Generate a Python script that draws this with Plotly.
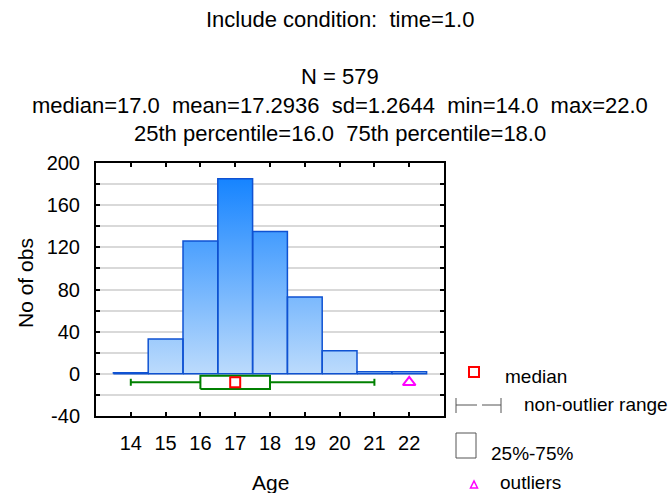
import plotly.graph_objects as go

# Age histogram (time = 1.0)
ages = [14, 15, 16, 17, 18, 19, 20, 21, 22]
counts = [1, 33, 126, 185, 135, 73, 22, 2, 2]

# Box-plot summary drawn under the histogram
median_age = 17.0
q1_age = 16.0
q3_age = 18.0
range_low = 14.0
range_high = 21.0
outlier_ages = [22.0]

y_tick_vals = list(range(-40, 201, 20))
y_tick_text = [str(v) if v % 40 == 0 else "" for v in y_tick_vals]

title_lines = [
    "Include condition:  time=1.0",
    "N = 579",
    "median=17.0  mean=17.2936  sd=1.2644  min=14.0  max=22.0",
    "25th percentile=16.0  75th percentile=18.0",
]

FONT = "Liberation Sans, Arial, sans-serif"
W, H = 669, 493
L, R, T, B = 96, 444, 163, 416
BOX_ROW = -8.0      # vertical position of the box-plot row
BOX_HALF = 6.3      # half height of the 25%-75% box
BAR_W = 1.0

def px(x):
    return (x - L) / (R - L)

def py(y):
    return (B - y) / (B - T)

fig = go.Figure()

# histogram bars as closed outlines with a vertical gradient fill
bx, by = [], []
for a, c in zip(ages, counts):
    x0, x1 = a - BAR_W / 2, a + BAR_W / 2
    bx += [x0, x0, x1, x1, x0, None]
    by += [0, c, c, 0, 0, None]
fig.add_trace(go.Scatter(
    x=bx, y=by, mode="lines", fill="toself",
    line=dict(color="#0f52d2", width=1.5),
    fillgradient=dict(type="vertical",
                      colorscale=[[0, "#bcdbfc"], [1, "#1684ff"]],
                      start=0, stop=max(counts)),
    hoverinfo="skip", showlegend=False,
))

# non-outlier range whiskers
green = "#008000"
fig.add_trace(go.Scatter(
    x=[range_low, q1_age, None, q3_age, range_high],
    y=[BOX_ROW, BOX_ROW, None, BOX_ROW, BOX_ROW],
    mode="lines", line=dict(color=green, width=2),
    hoverinfo="skip", showlegend=False,
))
fig.add_trace(go.Scatter(
    x=[range_low, range_high], y=[BOX_ROW, BOX_ROW], mode="markers",
    marker=dict(symbol="line-ns-open", size=5, color=green,
                line=dict(color=green, width=2)),
    hoverinfo="skip", showlegend=False,
))
# 25%-75% box
fig.add_trace(go.Scatter(
    x=[q1_age, q3_age, q3_age, q1_age, q1_age],
    y=[BOX_ROW - BOX_HALF, BOX_ROW - BOX_HALF, BOX_ROW + BOX_HALF,
       BOX_ROW + BOX_HALF, BOX_ROW - BOX_HALF],
    mode="lines", fill="toself", fillcolor="white",
    line=dict(color=green, width=2),
    hoverinfo="skip", showlegend=False,
))
# median and outliers
fig.add_trace(go.Scatter(
    x=[median_age], y=[BOX_ROW], mode="markers",
    marker=dict(symbol="square-open", size=10, color="#ff0000",
                line=dict(color="#ff0000", width=2)),
    hoverinfo="skip", showlegend=False,
))
fig.add_trace(go.Scatter(
    x=outlier_ages, y=[BOX_ROW] * len(outlier_ages), mode="markers",
    marker=dict(symbol="triangle-up-open", size=11, color="#ff00ff",
                line=dict(color="#ff00ff", width=2)),
    hoverinfo="skip", showlegend=False,
))

annotations = []
title_y = [20, 76, 105, 133]
for txt, yy in zip(title_lines, title_y):
    annotations.append(dict(
        text=txt, x=px(340), y=py(yy), xref="paper", yref="paper",
        xanchor="center", yanchor="middle", showarrow=False,
        font=dict(family=FONT, size=22, color="black"),
    ))
annotations.append(dict(
    text="No of obs", x=px(25), y=py(283), xref="paper", yref="paper",
    textangle=-90, xanchor="center", yanchor="middle", showarrow=False,
    font=dict(family=FONT, size=21, color="black"),
))
annotations.append(dict(
    text="Age", x=px(270), y=py(482), xref="paper", yref="paper",
    xanchor="center", yanchor="middle", showarrow=False,
    font=dict(family=FONT, size=21, color="black"),
))

# legend key (drawn in the right margin)
legend_items = [("median", 503, 376), ("non-outlier range", 522, 404),
                ("25%-75%", 489, 453), ("outliers", 498, 482)]
for txt, lx, ly in legend_items:
    annotations.append(dict(
        text=txt, x=px(lx), y=py(ly), xref="paper", yref="paper",
        xanchor="left", yanchor="middle", showarrow=False,
        font=dict(family=FONT, size=19, color="black"),
    ))

gray = "#555555"
shapes = [
    dict(type="rect", xref="paper", yref="paper",
         x0=px(469), x1=px(479), y0=py(377), y1=py(367),
         line=dict(color="#ff0000", width=2)),
    dict(type="line", xref="paper", yref="paper",
         x0=px(456), x1=px(456), y0=py(413), y1=py(398), line=dict(color=gray, width=1)),
    dict(type="line", xref="paper", yref="paper",
         x0=px(456), x1=px(477), y0=py(405), y1=py(405), line=dict(color=gray, width=1)),
    dict(type="line", xref="paper", yref="paper",
         x0=px(482), x1=px(501), y0=py(405), y1=py(405), line=dict(color=gray, width=1)),
    dict(type="line", xref="paper", yref="paper",
         x0=px(501), x1=px(501), y0=py(413), y1=py(398), line=dict(color=gray, width=1)),
    dict(type="rect", xref="paper", yref="paper",
         x0=px(456), x1=px(476), y0=py(458), y1=py(433), line=dict(color=gray, width=1)),
    dict(type="path", xref="paper", yref="paper",
         path=f"M {px(470.5)} {py(488)} L {px(477.5)} {py(488)} L {px(474)} {py(481)} Z",
         line=dict(color="#ff00ff", width=1.5)),
]

fig.update_layout(
    width=W, height=H,
    margin=dict(l=L, r=W - R, t=T, b=H - B, pad=0),
    paper_bgcolor="white", plot_bgcolor="white",
    font=dict(family=FONT, size=20, color="black"),
    showlegend=False,
    annotations=annotations, shapes=shapes,
    xaxis=dict(
        range=[13, 23], tickvals=ages, ticktext=[str(a) for a in ages],
        ticks="inside", ticklen=4, tickwidth=1.5, tickcolor="black",
        showline=True, linewidth=2, linecolor="black", mirror="ticks",
        showgrid=False, zeroline=False, ticklabelstandoff=8,
        tickfont=dict(family=FONT, size=20, color="black"),
    ),
    yaxis=dict(
        range=[-40, 200], tickvals=y_tick_vals, ticktext=y_tick_text,
        ticks="inside", ticklen=4, tickwidth=1.5, tickcolor="black",
        showline=True, linewidth=2, linecolor="black", mirror="ticks",
        showgrid=True, gridcolor="#d9d9d9", gridwidth=2, zeroline=False,
        ticklabelstandoff=10,
        tickfont=dict(family=FONT, size=20, color="black"),
    ),
)

fig.write_html("out.html")
